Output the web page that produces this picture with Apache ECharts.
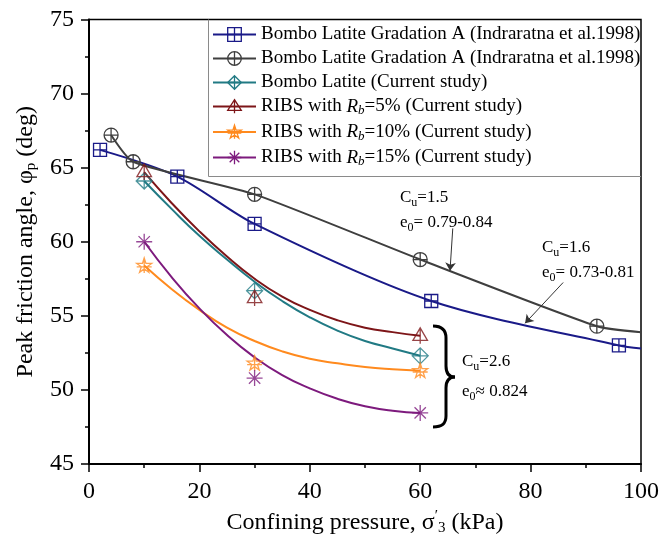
<!DOCTYPE html>
<html>
<head>
<meta charset="utf-8">
<script src="https://cdn.jsdelivr.net/npm/echarts@6/dist/echarts.min.js"></script>
<style>
  html, body { margin: 0; padding: 0; background: #fff; }
  #chart { width: 664px; height: 541px; }
</style>
</head>
<body>
<div id="chart"></div>
<script>
// Gradation A, Indraratna et al. (1998): Cu = 1.6 (navy) and Cu = 1.5 (grey).
// The last entry of each list is where the trend line leaves the plot (no marker).
const gradA16Pressure = [2, 16, 30, 62, 96, 100];
const gradA16Angle    = [66.2, 64.4, 61.2, 56.0, 53.0, 52.8];
const gradA15Pressure = [4, 8, 30, 60, 92, 100];
const gradA15Angle    = [67.2, 65.4, 63.2, 58.8, 54.3, 53.9];

// Current study: tested confining pressures and measured peak angles
const testPressure = [10, 30, 60];
const bomboAngle   = [64.1, 56.7, 52.3];
const ribs5Angle   = [64.7, 56.2, 53.65];
const ribs10Angle  = [58.4, 51.8, 51.3];
const ribs15Angle  = [60.0, 50.8, 48.45];

// Trend curves drawn through the current-study results
const fitPressure = [10, 15, 20, 25, 30, 35, 40, 45, 50, 55, 60];
const bomboFit    = [64.1, 62.2, 60.4, 58.8, 57.3, 56.0, 54.9, 54.0, 53.3, 52.8, 52.3];
const ribs5Fit    = [64.7, 62.6, 60.7, 59.0, 57.5, 56.3, 55.4, 54.7, 54.2, 53.9, 53.65];
const ribs10Fit   = [58.4, 56.8, 55.4, 54.2, 53.3, 52.6, 52.1, 51.8, 51.55, 51.4, 51.3];
const ribs15Fit   = [60.0, 57.6, 55.5, 53.7, 52.2, 51.0, 50.1, 49.4, 48.9, 48.6, 48.45];

// Legend entries
const seriesNames = ['gradA16', 'gradA15', 'bombo', 'ribs5', 'ribs10', 'ribs15'];
const legendLabels = {
  gradA16: '{n|Bombo Latite Gradation A (Indraratna et al.1998)}',
  gradA15: '{n|Bombo Latite Gradation A (Indraratna et al.1998)}',
  bombo:   '{n|Bombo Latite (Current study)}',
  ribs5:   '{n|RIBS with }{i|R}{s|b}{n|=5% (Current study)}',
  ribs10:  '{n|RIBS with }{i|R}{s|b}{n|=10% (Current study)}',
  ribs15:  '{n|RIBS with }{i|R}{s|b}{n|=15% (Current study)}'
};

const SERIF = 'Liberation Serif, Times New Roman, serif';
const colors = {
  gradA16: '#1a1a88',
  gradA15: '#3f3f3f',
  bombo:   '#217a84',
  ribs5:   '#7d1518',
  ribs10:  '#ff8a1e',
  ribs15:  '#7d1a7d'
};

// Hollow marker shapes
const symbols = {
  gradA16: 'path://M0,0L10,0L10,10L0,10Z M5,0L5,10 M0,5L10,5',
  gradA15: 'path://M0,5A5,5,0,1,1,10,5A5,5,0,1,1,0,5Z M5,0L5,10 M0,5L10,5',
  bombo:   'path://M5,0L10,5L5,10L0,5Z M5,0L5,10 M0,5L10,5',
  ribs5:   'path://M5,0L10,8.66L0,8.66Z M5,0L5,11 M0,8.66L10,8.66',
  ribs10:  'path://M5,0L6.123,3.455L9.755,3.455L6.817,5.59L7.939,9.045L5,6.91L2.061,9.045L3.183,5.59L0.245,3.455L3.877,3.455Z M5,0L5,9.5 M0.245,5.6L9.755,5.6',
  ribs15:  'path://M5,0L5,10 M0,5L10,5 M1.46,1.46L8.54,8.54 M8.54,1.46L1.46,8.54'
};
const symbolSizes = { gradA16: 13, gradA15: 14, bombo: 16, ribs5: 16, ribs10: 15, ribs15: 16 };

function pairs(xs, ys, lastIsTail) {
  return xs.map((x, i) => {
    const item = { value: [x, ys[i]] };
    if (lastIsTail && i === xs.length - 1) item.symbol = 'none';
    return item;
  });
}

function markerStyle(key) {
  return { color: 'transparent', borderColor: colors[key], borderWidth: 1.3 };
}

// Literature curves: line through the markers
function literatureSeries(key, xs, ys, smooth, extra) {
  return Object.assign({
    name: key,
    type: 'line',
    data: pairs(xs, ys, true),
    smooth: smooth,
    symbol: symbols[key],
    symbolSize: symbolSizes[key],
    symbolKeepAspect: true,
    lineStyle: { color: colors[key], width: 2 },
    itemStyle: markerStyle(key),
    z: 3
  }, extra || {});
}

// Current study: trend curve + measured points sharing one legend entry
function studySeries(key, fit, measured) {
  return [
    {
      name: key,
      type: 'line',
      data: pairs(fitPressure, fit, false),
      smooth: true,
      showSymbol: false,
      symbol: symbols[key],
      symbolSize: symbolSizes[key],
      symbolKeepAspect: true,
      lineStyle: { color: colors[key], width: 2 },
      itemStyle: markerStyle(key),
      z: 2
    },
    {
      name: key,
      type: 'scatter',
      data: pairs(testPressure, measured, false),
      symbol: symbols[key],
      symbolSize: symbolSizes[key],
      symbolKeepAspect: true,
      itemStyle: markerStyle(key),
      z: 4
    }
  ];
}

const arrowLine = {
  silent: true,
  symbol: ['none', 'arrow'],
  symbolSize: 8,
  label: { show: false },
  lineStyle: { color: '#333', width: 1, type: 'solid' },
  itemStyle: { color: '#111' },
  animation: false
};

function annotation(x, y, text) {
  return {
    type: 'text', x: x, y: y, z: 6, silent: true,
    style: {
      text: text,
      verticalAlign: 'middle',
      rich: {
        a: { fontFamily: SERIF, fontSize: 17, fill: '#000', color: '#000' },
        s: { fontFamily: SERIF, fontSize: 12, fill: '#000', color: '#000', padding: [9, 0, 0, 0] }
      }
    }
  };
}

// Brace pieces (curly bracket beside the current-study curves)
const braceStroke = { stroke: '#000', lineWidth: 3, fill: 'none' };
function braceCurve(x1, y1, cx1, cy1, cx2, cy2, x2, y2) {
  return {
    type: 'bezierCurve', z: 5, silent: true,
    shape: { x1: x1, y1: y1, x2: x2, y2: y2, cpx1: cx1, cpy1: cy1, cpx2: cx2, cpy2: cy2 },
    style: braceStroke
  };
}
function braceLine(x1, y1, x2, y2) {
  return { type: 'line', z: 5, silent: true, shape: { x1: x1, y1: y1, x2: x2, y2: y2 }, style: braceStroke };
}

const option = {
  animation: false,
  backgroundColor: '#fff',
  grid: {
    left: 89, right: 23, top: 19.5, bottom: 77,
    show: true, borderColor: '#000', borderWidth: 1.5, backgroundColor: 'transparent'
  },
  xAxis: {
    type: 'value', min: 0, max: 100, interval: 20,
    name: '{n|Confining pressure, σ}{p|′}{s|3}{n| (kPa)}',
    nameLocation: 'middle', nameGap: 45,
    nameTextStyle: {
      rich: {
        n: { fontFamily: SERIF, fontSize: 24, color: '#000' },
        p: { fontFamily: SERIF, fontSize: 15, color: '#000', padding: [0, 0, 12, 0] },
        s: { fontFamily: SERIF, fontSize: 15, color: '#000', padding: [12, 0, 0, 0] }
      }
    },
    axisLine: { lineStyle: { color: '#000', width: 2 } },
    axisTick: { inside: false, length: 8, lineStyle: { color: '#000', width: 1.5 } },
    minorTick: { show: true, splitNumber: 2, length: 4, lineStyle: { color: '#000', width: 1.5 } },
    splitLine: { show: false },
    axisLabel: { fontFamily: SERIF, fontSize: 24, color: '#000', margin: 16 }
  },
  yAxis: {
    type: 'value', min: 45, max: 75, interval: 5,
    name: '{n|Peak friction angle, φ}{s|p}{n| (deg)}',
    nameLocation: 'middle', nameGap: 50, nameRotate: 90,
    nameTextStyle: {
      rich: {
        n: { fontFamily: SERIF, fontSize: 24, color: '#000' },
        s: { fontFamily: SERIF, fontSize: 15, color: '#000', padding: [12, 0, 0, 0] }
      }
    },
    axisLine: { lineStyle: { color: '#000', width: 2 } },
    axisTick: { inside: false, length: 8, lineStyle: { color: '#000', width: 1.5 } },
    minorTick: { show: true, splitNumber: 2, length: 4, lineStyle: { color: '#000', width: 1.5 } },
    splitLine: { show: false },
    axisLabel: { fontFamily: SERIF, fontSize: 24, color: '#000', margin: 15 }
  },
  legend: {
    data: seriesNames.map(key => ({
      name: key,
      itemStyle: { color: 'transparent', borderColor: colors[key], borderWidth: 1.3 }
    })),
    orient: 'vertical',
    left: 208, top: 23,
    padding: [2, 4, 2, 4],
    itemGap: 5,
    itemWidth: 43,
    itemHeight: 17,
    selectedMode: false,
    formatter: name => legendLabels[name],
    textStyle: {
      fontFamily: SERIF, fontSize: 19, color: '#000',
      rich: {
        n: { fontFamily: SERIF, fontSize: 19, color: '#000', lineHeight: 24 },
        i: { fontFamily: SERIF, fontSize: 19, color: '#000', fontStyle: 'italic', lineHeight: 24 },
        s: { fontFamily: SERIF, fontSize: 13, color: '#000', fontStyle: 'italic', padding: [9, 0, 0, 0] }
      }
    }
  },
  series: [
    literatureSeries('gradA16', gradA16Pressure, gradA16Angle, 0.3, {
      markLine: Object.assign({ data: [[{ coord: [85.9, 57.25] }, { coord: [79.0, 54.5] }]] }, arrowLine)
    }),
    literatureSeries('gradA15', gradA15Pressure, gradA15Angle, 0.2, {
      markLine: Object.assign({ data: [[{ coord: [65.9, 60.9] }, { coord: [65.4, 58.05] }]] }, arrowLine)
    }),
    ...studySeries('bombo', bomboFit, bomboAngle),
    ...studySeries('ribs5', ribs5Fit, ribs5Angle),
    ...studySeries('ribs10', ribs10Fit, ribs10Angle),
    ...studySeries('ribs15', ribs15Fit, ribs15Angle)
  ],
  graphic: [
    // legend frame (left and bottom edges; top/right coincide with the plot frame)
    {
      type: 'polyline', z: 5, silent: true,
      shape: { points: [[208.5, 19.5], [208.5, 176.5], [641, 176.5]] },
      style: { stroke: '#8a8a8a', lineWidth: 1, fill: 'none' }
    },
    braceCurve(433, 326, 442, 326, 446, 330, 446, 338),
    braceLine(446, 338, 446, 366),
    braceCurve(446, 366, 446, 373, 449, 377, 455, 377),
    braceCurve(455, 377, 449, 377, 446, 381, 446, 388),
    braceLine(446, 388, 446, 416),
    braceCurve(446, 416, 446, 424, 442, 427, 433, 427),
    annotation(400, 198, '{a|C}{s|u}{a|=1.5}'),
    annotation(400, 223, '{a|e}{s|0}{a|= 0.79-0.84}'),
    annotation(542, 248, '{a|C}{s|u}{a|=1.6}'),
    annotation(542, 273, '{a|e}{s|0}{a|= 0.73-0.81}'),
    annotation(462, 362, '{a|C}{s|u}{a|=2.6}'),
    annotation(462, 392, '{a|e}{s|0}{a|≈ 0.824}')
  ]
};

const chart = echarts.init(document.getElementById('chart'), null, { renderer: 'canvas' });
chart.setOption(option);
</script>
</body>
</html>
